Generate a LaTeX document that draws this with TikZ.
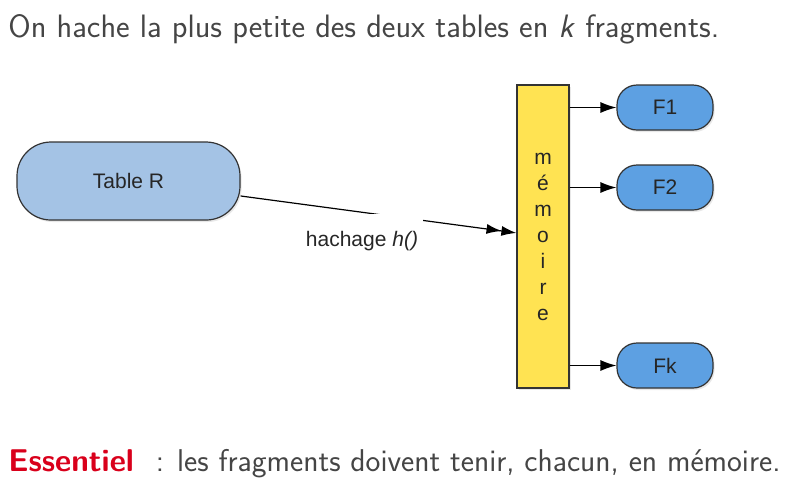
\documentclass[tikz,border=0pt]{standalone}
\usepackage{fontspec}
\newfontfamily\helv{Liberation Sans}
\usetikzlibrary{arrows.meta,shadows}
\definecolor{bleuclair}{HTML}{A4C3E5}
\definecolor{bleufrag}{HTML}{5DA0E2}
\definecolor{jaunemem}{HTML}{FFE352}
\definecolor{rougeess}{HTML}{D9001B}
\definecolor{gristexte}{HTML}{454545}
\tikzset{
    boite/.style={draw=black!80,line width=0.6pt,font=\helv\fontsize{10.5}{13}\selectfont,text=black!85,
      drop shadow={opacity=0.18,shadow xshift=0.8pt,shadow yshift=-1pt}},
    table/.style={boite,fill=bleuclair,rounded corners=17pt,minimum width=111.5pt,minimum height=39pt},
    frag/.style={boite,fill=bleufrag,rounded corners=10pt,minimum width=48pt,minimum height=22.5pt},
    memoire/.style={boite,fill=jaunemem,minimum width=26pt,minimum height=151.5pt,align=center,inner sep=0pt},
    fleche/.style={line width=0.6pt,-{Latex[length=8pt,width=5.5pt]}},
    texte/.style={font=\sffamily\fontsize{16.2}{19}\selectfont,text=gristexte,inner sep=0pt},
  }
\begin{document}
\begin{tikzpicture}[x=0.5pt,y=-0.5pt]
	\useasboundingbox (0,0) rectangle (790,484);
	%TEXTE DU HAUT
	\node[texte,anchor=base west] (titre) at (8,37) {On hache la plus petite des deux tables en \textit{k} fragments.};
	%TABLE ET MEMOIRE
	\node[table] (tabler) at (128.5,181) {Table R};
	\node[memoire] (mem) at (543,236.5) {m\\é\\m\\o\\i\\r\\e};
	%FRAGMENTS
	\node[frag] (f1) at (665,107.5) {F1};
	\node[frag] (f2) at (665,187.5) {F2};
	\node[frag] (fk) at (665,365.5) {Fk};
	\draw[fleche] (mem.east |- f1) -- (f1);
	\draw[fleche] (mem.east |- f2) -- (f2);
	\draw[fleche] (mem.east |- fk) -- (fk);
	%HACHAGE
	\draw[line width=0.6pt,-{Latex[length=7.5pt,width=5pt]Latex[length=7.5pt,width=5pt]}] (tabler) -- (mem);
	\node[fill=white,inner xsep=2.5pt,inner ysep=1pt,text height=15pt,text depth=3pt,anchor=base,
	      font=\helv\fontsize{10.5}{13}\selectfont,text=black!85] (hach) at (362,246) {hachage \textit{h()}};
	%TEXTE DU BAS
	\node[texte,font=\sffamily\fontsize{15.75}{19}\selectfont,anchor=base west] (ess) at (8,471)
	      {\textcolor{rougeess}{\bfseries Essentiel}\hspace{6pt} : les fragments doivent tenir, chacun, en mémoire.};
\end{tikzpicture}
\end{document}
